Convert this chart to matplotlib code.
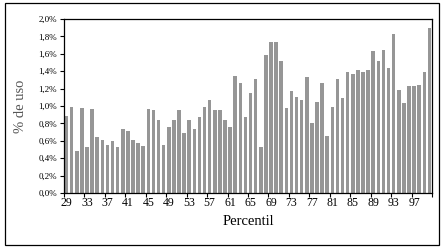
import matplotlib
matplotlib.use("Agg")
import matplotlib.pyplot as plt
from matplotlib.patches import Rectangle
from matplotlib.ticker import FixedLocator

# percentil 29..100
percentil = list(range(29, 101))
uso = [
    0.88, 0.99, 0.48, 0.98, 0.53, 0.97, 0.64, 0.61, 0.55, 0.60,
    0.53, 0.74, 0.71, 0.61, 0.58, 0.54, 0.97, 0.95, 0.84, 0.55,
    0.76, 0.84, 0.95, 0.69, 0.84, 0.74, 0.87, 0.99, 1.07, 0.95,
    0.95, 0.84, 0.76, 1.35, 1.26, 0.87, 1.15, 1.31, 0.53, 1.59,
    1.73, 1.74, 1.52, 0.98, 1.17, 1.10, 1.07, 1.33, 0.81, 1.05,
    1.26, 0.65, 0.99, 1.31, 1.09, 1.39, 1.37, 1.41, 1.39, 1.41,
    1.63, 1.52, 1.64, 1.44, 1.83, 1.18, 1.03, 1.23, 1.23, 1.24,
    1.39, 1.90,
]
yticks = [0.0, 0.2, 0.4, 0.6, 0.8, 1.0, 1.2, 1.4, 1.6, 1.8, 2.0]
ylabels = ["0,0%", "0,2%", "0,4%", "0,6%", "0,8%", "1,0%", "1,2%", "1,4%", "1,6%", "1,8%", "2,0%"]

plt.rcParams['font.family'] = ['Liberation Serif', 'DejaVu Serif']

fig = plt.figure(figsize=(4.42, 2.5), dpi=100)
ax = fig.add_axes([64/442, 57/250, 368/442, 174/250])

pos = list(range(len(percentil)))
ax.bar(pos, uso, width=0.7, color='#969696', linewidth=0)

ax.set_xlim(-0.5, len(percentil) - 0.5)
ax.set_ylim(0, 2.0)

ax.set_yticks(yticks)
ax.set_yticklabels(ylabels, fontsize=6.5)
ax.tick_params(axis='y', direction='out', length=3, width=0.8, pad=2)

# labels centred on every 4th bar, tick marks on the boundaries
lab_pos = pos[::4]
ax.set_xticks(lab_pos)
ax.set_xticklabels([str(percentil[i]) for i in lab_pos], fontsize=8.5)
ax.tick_params(axis='x', which='major', length=0, pad=3)
ax.xaxis.set_minor_locator(FixedLocator([p - 0.5 for p in lab_pos] + [len(pos) - 0.5]))
ax.tick_params(axis='x', which='minor', direction='out', length=3, width=0.8)

for s in ax.spines.values():
    s.set_linewidth(0.9)
    s.set_color('black')

ax.set_xlabel('Percentil', fontsize=10.5, labelpad=4)
ax.set_ylabel('% de uso', fontsize=10.5, color='#555555', labelpad=8)

fig.patches.append(Rectangle((5/442, 5/250), 434/442, 242/250, transform=fig.transFigure,
                             fill=False, edgecolor='black', linewidth=0.9))

fig.savefig('out.png', dpi=100)
